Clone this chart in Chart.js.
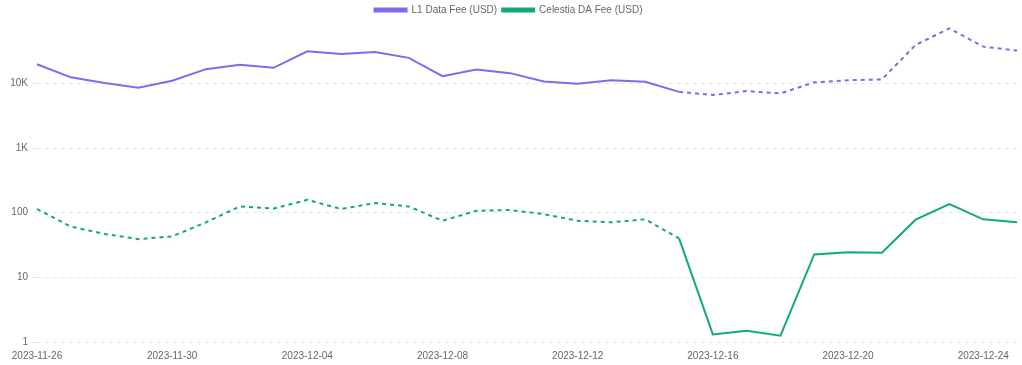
<!DOCTYPE html>
<html>
<head>
<meta charset="utf-8">
<script src="https://cdn.jsdelivr.net/npm/chart.js@4.4.0/dist/chart.umd.min.js"></script>
<style>
  html, body { margin: 0; padding: 0; background: #fff; }
  #wrap { width: 1022px; height: 365px; }
</style>
</head>
<body>
<div id="wrap"><canvas id="myChart"></canvas></div>
<script>
// dates 2023-11-26 .. 2023-12-25
var dates = ["2023-11-26","2023-11-27","2023-11-28","2023-11-29","2023-11-30",
  "2023-12-01","2023-12-02","2023-12-03","2023-12-04","2023-12-05","2023-12-06",
  "2023-12-07","2023-12-08","2023-12-09","2023-12-10","2023-12-11","2023-12-12",
  "2023-12-13","2023-12-14","2023-12-15","2023-12-16","2023-12-17","2023-12-18",
  "2023-12-19","2023-12-20","2023-12-21","2023-12-22","2023-12-23","2023-12-24","2023-12-25"]

var l1Fee = [19800,12400,10100,8600,11000,16600,19400,17400,31400,28600,30700,
  24800,12900,16400,14400,10700,9900,11200,10600,7400,6600,7600,7000,10400,
  11200,11500,39400,70900,37000,32200]

var celestiaFee = [114,61,47,39,43,71,125,116,158,114,141,125,75,107,110,95,75,
  71,79,40,1.31,1.49,1.25,22.6,24.5,24,78,136,79,71]

// index where the line style switches (solid <-> dashed)
var splitIndex = 19

var yTickLabels = {1:"1", 10:"10", 100:"100", 1000:"1K", 10000:"10K"}

var font = {family: "'Liberation Sans', Arial, sans-serif", size: 10}

var ctx = document.getElementById("myChart").getContext('2d')
var chart = new Chart(ctx, {
  type: 'line',
  data: {
    labels: dates,
    datasets: [
      {
        label: "L1 Data Fee (USD)",
        data: l1Fee,
        borderColor: "#7b6cf0",
        backgroundColor: "#7b6cf0",
        borderWidth: 2,
        pointRadius: 0,
        tension: 0,
        segment: {
          borderDash: function(c){ return c.p0DataIndex >= splitIndex ? [4,4] : undefined }
        }
      },
      {
        label: "Celestia DA Fee (USD)",
        data: celestiaFee,
        borderColor: "#13aa7b",
        backgroundColor: "#13aa7b",
        borderWidth: 2,
        pointRadius: 0,
        tension: 0,
        segment: {
          borderDash: function(c){ return c.p0DataIndex < splitIndex ? [4,4] : undefined }
        }
      }
    ]
  },
  options: {
    responsive: true,
    maintainAspectRatio: false,
    animation: false,
    layout: {padding: {left: 0, right: 5, top: 0, bottom: 3}},
    plugins: {
      legend: {
        position: 'top',
        labels: {
          boxWidth: 32,
          boxHeight: 3,
          padding: 5,
          color: "#666",
          font: font
        }
      },
      tooltip: {enabled: false}
    },
    scales: {
      x: {
        grid: {display: false},
        border: {display: false},
        ticks: {
          autoSkip: false,
          maxRotation: 0,
          color: "#666",
          font: font,
          padding: 0,
          callback: function(v, i){ return i % 4 === 0 ? dates[i] : null }
        }
      },
      y: {
        type: 'logarithmic',
        min: 1,
        afterFit: function(s){ s.width = 37 },
        border: {display: false, dash: [4,4]},
        grid: {color: "#e6e6e6", tickLength: 4},
        ticks: {
          color: "#666",
          font: font,
          padding: 5,
          callback: function(v){ return yTickLabels[v] !== undefined ? yTickLabels[v] : null }
        }
      }
    }
  }
})
</script>
</body>
</html>
